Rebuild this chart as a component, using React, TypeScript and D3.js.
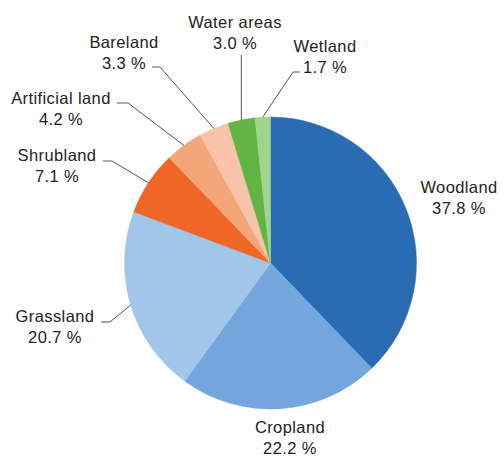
import React from "react";
import * as d3 from "d3";

const categories = ["Woodland", "Cropland", "Grassland", "Shrubland", "Artificial land", "Bareland", "Water areas", "Wetland"];
const values = [37.8, 22.2, 20.7, 7.1, 4.2, 3.3, 3.0, 1.7];
const valueLabels = ["37.8 %", "22.2 %", "20.7 %", "7.1 %", "4.2 %", "3.3 %", "3.0 %", "1.7 %"];
const colors = ["#2a6cb3", "#72a6dd", "#a2c6ea", "#ef6724", "#f5a57a", "#f8c3a8", "#62b445", "#9fd58a"];

type Lab = { x: number; y: number; leader?: { h0?: number; h1?: number; hy: number; vertical?: boolean } };
const labelLayout: Lab[] = [
  { x: 459, y: 193 },
  { x: 290, y: 433 },
  { x: 55, y: 322, leader: { h0: 110, h1: 101, hy: 322 } },
  { x: 57, y: 161, leader: { h0: 112, h1: 103, hy: 161 } },
  { x: 61, y: 104, leader: { h0: 128, h1: 117, hy: 103 } },
  { x: 124, y: 48, leader: { h0: 160, h1: 152, hy: 67 } },
  { x: 235, y: 28, leader: { hy: 55, vertical: true } },
  { x: 325, y: 52, leader: { h0: 293, h1: 300, hy: 72 } },
];

export default function App() {
  const W = 504, H = 457;
  const cx = 270.5, cy = 263, r = 146;
  const pie = d3.pie<number>().sort(null).value((d) => d);
  const arcs = pie(values);
  const arc = d3.arc<d3.PieArcDatum<number>>().innerRadius(0).outerRadius(r);
  const font = "'Liberation Sans', Arial, sans-serif";
  return (
    <svg width={W} height={H} style={{ position: "absolute", left: 0, top: 0, background: "#fff" }}>
      <g transform={`translate(${cx},${cy})`}>
        {arcs.map((a, i) => (
          <path key={i} d={arc(a) || ""} fill={colors[i]} stroke={colors[i]} strokeWidth={0.5} />
        ))}
      </g>
      {arcs.map((a, i) => {
        const lab = labelLayout[i];
        const mid = (a.startAngle + a.endAngle) / 2;
        const ex = cx + r * Math.sin(mid);
        const ey = cy - r * Math.cos(mid);
        let line = null;
        if (lab.leader) {
          const L = lab.leader;
          let pts: [number, number][];
          if (L.vertical) pts = [[ex, L.hy], [ex, ey]];
          else pts = [[L.h1!, L.hy], [L.h0!, L.hy], [ex, ey]];
          line = <path d={d3.line()(pts) || ""} fill="none" stroke="#555" strokeWidth={1} />;
        }
        return (
          <g key={i}>
            {line}
            <text x={lab.x} y={lab.y} textAnchor="middle" fontFamily={font} fontSize={16.5} letterSpacing={0.4} fill="#222">
              {categories[i]}
            </text>
            <text x={lab.x} y={lab.y + 20.5} textAnchor="middle" fontFamily={font} fontSize={16.5} letterSpacing={0.4} fill="#222">
              {valueLabels[i]}
            </text>
          </g>
        );
      })}
    </svg>
  );
}
